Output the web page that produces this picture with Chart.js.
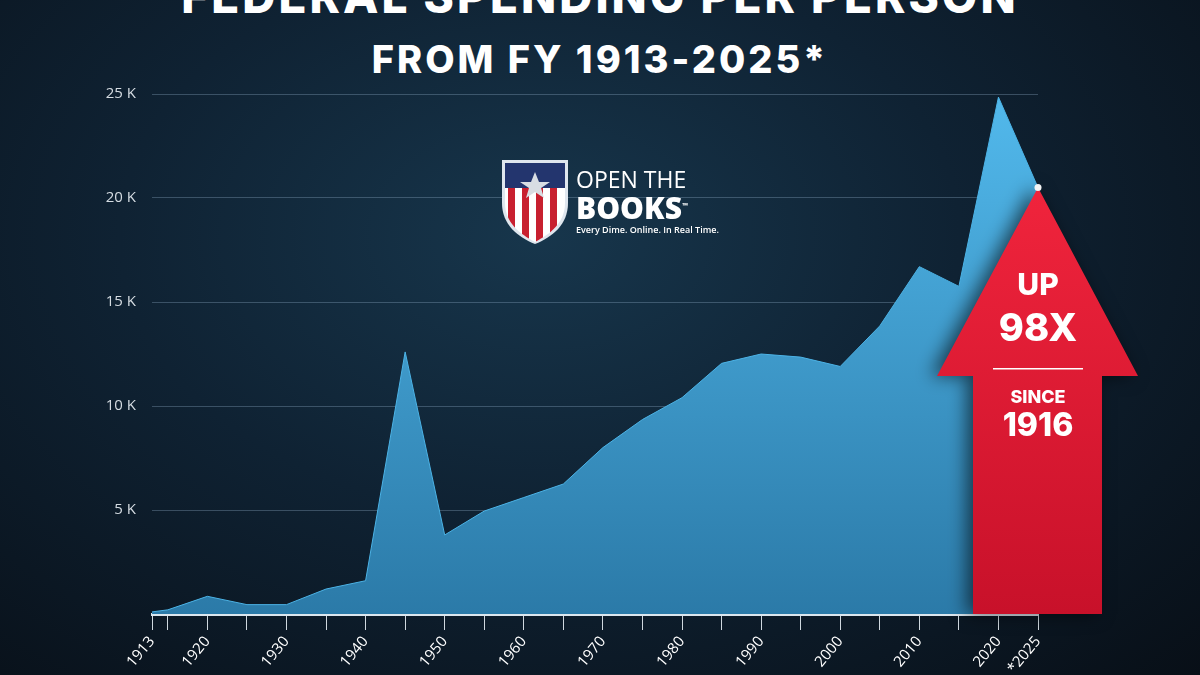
<!DOCTYPE html>
<html lang="en">
<head>
<meta charset="UTF-8">
<title>Federal Spending Per Person</title>
<script src="https://cdn.jsdelivr.net/npm/chart.js"></script>
<style>
  html, body { margin: 0; padding: 0; }
  body {
    width: 1200px; height: 675px; overflow: hidden; position: relative;
    background: radial-gradient(ellipse at 45% 35%, #17364c 0%, #0f2233 45%, #080f17 100%);
    font-family: 'Open Sans', 'DejaVu Sans', sans-serif;
  }
  .title {
    position: absolute; left: 0; width: 1200px; text-align: center;
    color: #fff; font-weight: 800; letter-spacing: 3px;
    font-family: 'Inter', 'Open Sans', sans-serif;
  }
  #t1 { top: -32px; font-size: 46px; }
  #t2 { top: 36px; font-size: 38px; }
  #logo { position: absolute; left: 500px; top: 158px; display: flex; align-items: center; }
  #logo .txt { color: #fff; margin-left: 6px; font-family: 'Open Sans', sans-serif; }
  #logo .a { font-size: 23px; line-height: 24px; }
  #logo .b { font-size: 30px; font-weight: 800; line-height: 30px; }
  #logo .c { font-size: 9px; font-weight: 600; }
  canvas { position: absolute; left: 0; top: 0; }
</style>
</head>
<body>
<div class="title" id="t1">FEDERAL SPENDING PER PERSON</div>
<div class="title" id="t2">FROM FY 1913-2025*</div>
<canvas id="chart" width="1200" height="675"></canvas>
<div id="logo">
  <svg width="70" height="86" viewBox="0 0 70 86">
    <defs>
      <clipPath id="sh"><path d="M5 5 H65 V45 C65 65 50 76 35 84 C20 76 5 65 5 45 Z"/></clipPath>
    </defs>
    <path d="M2 2 H68 V45 C68 67 52 79 35 86 C18 79 2 67 2 45 Z" fill="#dfe6ee"/>
    <g clip-path="url(#sh)">
      <rect x="0" y="0" width="70" height="90" fill="#fff"/>
      <rect x="8" y="30" width="7" height="60" fill="#c8202f"/>
      <rect x="22" y="30" width="7" height="60" fill="#c8202f"/>
      <rect x="36" y="30" width="7" height="60" fill="#c8202f"/>
      <rect x="50" y="30" width="7" height="60" fill="#c8202f"/>
      <rect x="0" y="0" width="70" height="30" fill="#23356e"/>
      <polygon points="35,14 39,24 50,24 41,30 44,40 35,34 26,40 29,30 20,24 31,24" fill="#d8dde3"/>
    </g>
  </svg>
  <div class="txt">
    <div class="a">OPEN THE</div>
    <div class="b">BOOKS<sup style="font-size:7px">™</sup></div>
    <div class="c">Every Dime. Online. In Real Time.</div>
  </div>
</div>
<script>
const years = [1913, 1915, 1920, 1925, 1930, 1935, 1940, 1945, 1950, 1955, 1960, 1965, 1970,
  1975, 1980, 1985, 1990, 1995, 2000, 2005, 2010, 2015, 2020, 2025];
const spending = [100, 200, 850, 450, 450, 1200, 1600, 12600, 3800, 4950, 5600, 6250, 8000,
  9350, 10400, 12050, 12500, 12350, 11900, 13850, 16700, 15750, 24850, 20500];
const xTicks = [1913, 1915, 1920, 1925, 1930, 1935, 1940, 1945, 1950, 1955, 1960, 1965, 1970,
  1975, 1980, 1985, 1990, 1995, 2000, 2005, 2010, 2015, 2020, 2025];
const yTicks = [5000, 10000, 15000, 20000, 25000];

const arrowPlugin = {
  id: 'arrow',
  afterDatasetsDraw(chart) {
    const { ctx, scales: { x, y } } = chart;
    const tipX = x.getPixelForValue(2025), tipY = y.getPixelForValue(20500);
    const base = y.getPixelForValue(0);
    const headY = 376, sL = tipX - 65, sR = tipX + 64, hL = tipX - 101, hR = tipX + 100;
    ctx.save();
    ctx.shadowColor = 'rgba(0,0,0,0.6)'; ctx.shadowBlur = 18; ctx.shadowOffsetX = -6;
    const g = ctx.createLinearGradient(0, tipY, 0, base);
    g.addColorStop(0, '#f0243c'); g.addColorStop(1, '#c8112a');
    ctx.fillStyle = g;
    ctx.beginPath();
    ctx.moveTo(tipX, tipY); ctx.lineTo(hR, headY); ctx.lineTo(sR, headY);
    ctx.lineTo(sR, base); ctx.lineTo(sL, base); ctx.lineTo(sL, headY);
    ctx.lineTo(hL, headY); ctx.closePath(); ctx.fill();
    ctx.restore();
    ctx.save();
    ctx.fillStyle = '#fff'; ctx.textAlign = 'center'; ctx.textBaseline = 'middle';
    ctx.font = "800 30px Inter, 'Open Sans', sans-serif";
    ctx.fillText('UP', tipX, 286);
    ctx.font = "800 38px Inter, 'Open Sans', sans-serif";
    ctx.fillText('98X', tipX, 330);
    ctx.fillRect(tipX - 45, 368, 90, 1.5);
    ctx.font = "800 18px Inter, 'Open Sans', sans-serif";
    ctx.fillText('SINCE', tipX, 398);
    ctx.font = "800 32px Inter, 'Open Sans', sans-serif";
    ctx.fillText('1916', tipX, 426);
    ctx.beginPath(); ctx.arc(tipX, tipY, 3.5, 0, Math.PI * 2);
    ctx.fillStyle = '#f4f4f4'; ctx.fill();
    ctx.restore();
  }
};

const ctx = document.getElementById('chart').getContext('2d');
const fill = ctx.createLinearGradient(0, 94, 0, 614);
fill.addColorStop(0, '#52b9ec');
fill.addColorStop(1, '#2b7aa8');

new Chart(ctx, {
  type: 'line',
  data: {
    datasets: [{
      data: years.map((yr, i) => ({ x: yr, y: spending[i] })),
      fill: 'origin', backgroundColor: fill, borderColor: '#4cb3e6',
      borderWidth: 1, pointRadius: 0, tension: 0
    }]
  },
  options: {
    responsive: false, animation: false,
    layout: { padding: { left: 0, right: 162, top: 94, bottom: 0 } },
    plugins: { legend: { display: false }, tooltip: { enabled: false } },
    scales: {
      x: {
        type: 'linear', min: 1913, max: 2025,
        afterBuildTicks: s => { s.ticks = xTicks.map(v => ({ value: v })); },
        afterFit: s => { s.height = 61; },
        border: { color: '#dbe6ee', width: 3 },
        grid: { drawOnChartArea: false, color: '#cfd8df', tickLength: 16, lineWidth: 1 },
        ticks: {
          color: '#fff', maxRotation: 50, minRotation: 50, autoSkip: false,
          font: { size: 15, family: "'Open Sans', sans-serif" },
          callback: v => v === 1913 ? '1913' : v === 2025 ? '*2025' : (v % 10 === 0 ? String(v) : '')
        }
      },
      y: {
        min: 0, max: 25000,
        afterBuildTicks: s => { s.ticks = yTicks.map(v => ({ value: v })); },
        afterFit: s => { s.width = 152; },
        border: { display: false },
        grid: { color: 'rgba(140,170,195,0.35)', drawTicks: false, lineWidth: 1 },
        ticks: {
          color: '#d5dce2', padding: 16,
          font: { size: 15, family: "'Open Sans', sans-serif" },
          callback: v => (v / 1000) + ' K'
        }
      }
    }
  },
  plugins: [arrowPlugin]
});
</script>
</body>
</html>
